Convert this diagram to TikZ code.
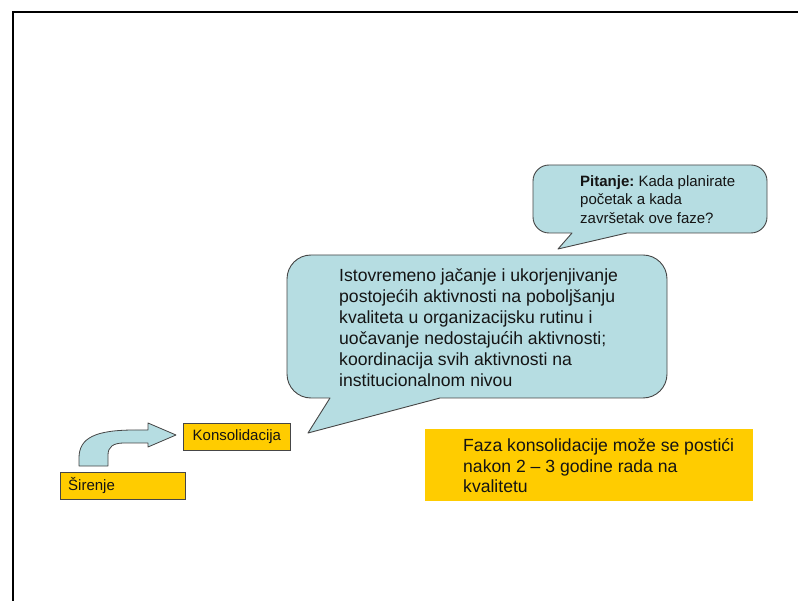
\documentclass[tikz,border=0pt]{standalone}
\usepackage{fontspec}
\setmainfont{Liberation Sans}
\frenchspacing
\begin{document}
\begin{tikzpicture}[x=1pt,y=-1pt,
  bubble/.style={fill=calloutblue,draw=edgegray,line width=0.9pt,line join=round},
  phasebox/.style={fill=phaseyellow,draw=edgegray,line width=0.8pt,inner sep=0pt,anchor=north west},
  notebox/.style={fill=phaseyellow,draw=none,inner sep=0pt,anchor=north west},
  bodytext/.style={inner sep=0pt,anchor=north west,align=left,text=inkblack}]
\definecolor{calloutblue}{RGB}{182,221,226}
\definecolor{phaseyellow}{RGB}{255,204,0}
\definecolor{edgegray}{RGB}{70,70,70}
\definecolor{inkblack}{RGB}{20,20,20}
\useasboundingbox (0,0) rectangle (798,601);
\fill[white] (0,0) rectangle (798,601);
% slide frame
\draw[line width=2.6pt] (13,601) -- (13,12) -- (798,12);

% phase labels
\node[phasebox,minimum width=125pt,minimum height=27pt] (siri) at (60,472) {};
\node[anchor=west,inner sep=0pt,font=\fontsize{15}{18}\selectfont,text=inkblack] (siritxt) at (68,486) {Širenje};
\node[phasebox,minimum width=107pt,minimum height=27pt] (kons) at (183,423) {};
\node[anchor=center,inner sep=0pt,font=\fontsize{15}{18}\selectfont,text=inkblack] (konstxt) at (kons.center) {Konsolidacija};

% bent arrow from the first phase to the second
\draw[bubble,line width=0.8pt] (79,466) -- (79,458)
  .. controls (79,438) and (95,430) .. (135,430) -- (148,430)
  -- (148,423) -- (176,435) -- (148,447) -- (148,443) -- (124,443)
  .. controls (113,443) and (108,447) .. (108,455) -- (108,466) -- cycle;

% large speech bubble
\draw[bubble] (330,398) -- (311,398)
  .. controls (297.7,398) and (287,387.3) .. (287,374) -- (287,279)
  .. controls (287,265.7) and (297.7,255) .. (311,255) -- (643,255)
  .. controls (656.3,255) and (667,265.7) .. (667,279) -- (667,374)
  .. controls (667,387.3) and (656.3,398) .. (643,398) -- (440,398)
  -- (308,433) -- cycle;
\node[bodytext,font=\fontsize{17.6}{21}\selectfont] (desc) at (339,268.5)
  {Istovremeno jačanje i ukorjenjivanje\\
   postojećih aktivnosti na poboljšanju\\
   kvaliteta u organizacijsku rutinu i\\
   uočavanje nedostajućih aktivnosti;\\
   koordinacija svih aktivnosti na\\
   institucionalnom nivou};

% small speech bubble with the question
\draw[bubble] (627,233) -- (751,233)
  .. controls (759.8,233) and (767,225.8) .. (767,217) -- (767,181)
  .. controls (767,172.2) and (759.8,165) .. (751,165) -- (549,165)
  .. controls (540.2,165) and (533,172.2) .. (533,181) -- (533,217)
  .. controls (533,225.8) and (540.2,233) .. (549,233) -- (572,233)
  -- (558,249) -- cycle;
\node[bodytext,font=\fontsize{15}{18.5}\selectfont] (question) at (580,175)
  {\textbf{Pitanje:} Kada planirate\\
   početak a kada\\
   završetak ove faze?};

% note on timing
\node[notebox,minimum width=328pt,minimum height=72pt] (note) at (425,429) {};
\node[bodytext,font=\fontsize{17.6}{20.5}\selectfont] (notetxt) at (463,438.5)
  {Faza konsolidacije može se postići\\
   nakon 2 – 3 godine rada na\\
   kvalitetu};
\end{tikzpicture}
\end{document}
